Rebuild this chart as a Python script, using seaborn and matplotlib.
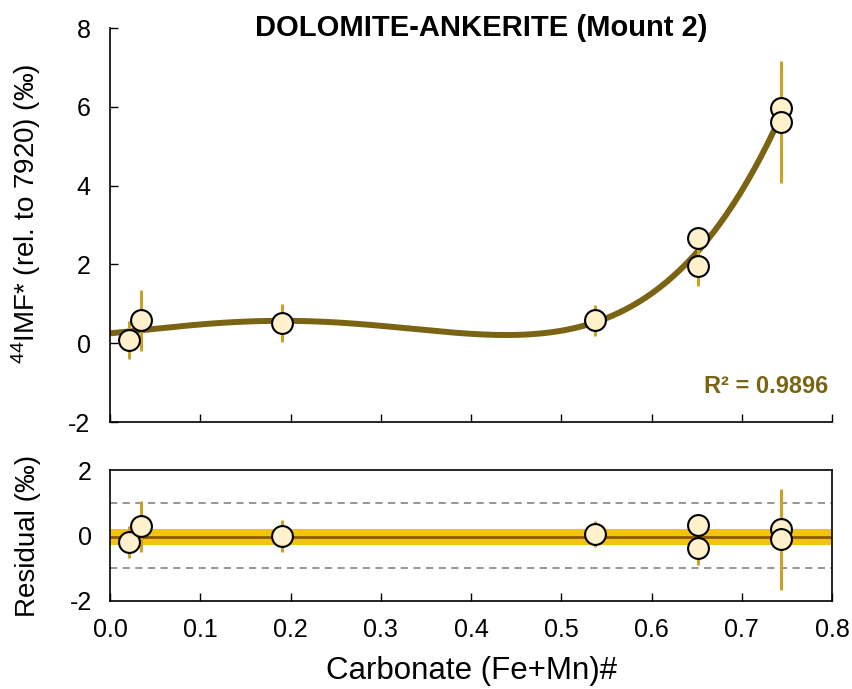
import numpy as np
import pandas as pd
import matplotlib
matplotlib.use("Agg")
import matplotlib.pyplot as plt
import seaborn as sns

# ---- data ----
fe_mn = [0.021, 0.034, 0.191, 0.537, 0.652, 0.652, 0.7435, 0.7435]
imf44 = [0.08, 0.58, 0.52, 0.58, 2.68, 1.96, 5.96, 5.62]
imf_err = [0.48, 0.78, 0.48, 0.40, 0.20, 0.52, 1.00, 1.55]
residual = [-0.20, 0.28, -0.02, 0.05, 0.33, -0.38, 0.20, -0.12]
r2_text = "R\u00b2 = 0.9896"
title = "DOLOMITE-ANKERITE (Mount 2)"
x_ticks = [0.0, 0.1, 0.2, 0.3, 0.4, 0.5, 0.6, 0.7, 0.8]
y_ticks_top = [-2, 0, 2, 4, 6, 8]
y_ticks_bot = [-2, 0, 2]
resid_band = [-0.29, 0.19]
resid_mean = -0.05

sns.set_theme(style="ticks")
plt.rcParams['font.family'] = ['Liberation Sans', 'DejaVu Sans']
plt.rcParams['mathtext.fontset'] = 'custom'
plt.rcParams['mathtext.rm'] = 'Liberation Sans'
plt.rcParams['mathtext.it'] = 'Liberation Sans'
for k in ['text.color', 'axes.labelcolor', 'xtick.color', 'ytick.color', 'axes.edgecolor']:
    plt.rcParams[k] = 'black'

fit_col = '#7A6414'
err_col = '#C9A227'
face_col = '#FFF1CC'

df = pd.DataFrame({'x': fe_mn, 'y': imf44, 'err': imf_err, 'res': residual})

# polynomial trend fitted to the data (as in the original trendline)
coef = np.polyfit(df.x, df.y, 4)
xs = np.linspace(0.0, 0.7435, 300)
fit = pd.DataFrame({'x': xs, 'y': np.polyval(coef, xs)})

fig = plt.figure(figsize=(8.52, 6.89), dpi=100)
ax1 = fig.add_axes([110/852, 1-422/689, 722/852, 394/689])
ax2 = fig.add_axes([110/852, 1-601/689, 722/852, 131/689])

# ---- top panel ----
sns.lineplot(data=fit, x='x', y='y', ax=ax1, color=fit_col, lw=4.3, zorder=2)
ax1.errorbar(df.x, df.y, yerr=df.err, fmt='none', ecolor=err_col, elinewidth=2.2, zorder=3)
sns.scatterplot(data=df, x='x', y='y', ax=ax1, s=225, color=face_col,
                edgecolor='black', linewidth=1.5, zorder=4)
ax1.set_xlim(0, 0.8)
ax1.set_ylim(-2, 8)
ax1.set_xticks(x_ticks)
ax1.set_xticklabels([])
ax1.set_yticks(y_ticks_top)
ax1.set_yticklabels([str(v) for v in y_ticks_top])
ax1.tick_params(direction='in', length=6, width=1, labelsize=18)
ax1.tick_params(axis='y', pad=14)
for s in ['top', 'right']:
    ax1.spines[s].set_visible(False)
for s in ['left', 'bottom']:
    ax1.spines[s].set_linewidth(1.2)
ax1.set_xlabel('')
ax1.set_ylabel(r'$^{44}$IMF* (rel. to 7920) (‰)', fontsize=20)
ax1.yaxis.set_label_coords(-0.093, 0.528)
ax1.text(0.796, -1.11, r2_text, color=fit_col, fontsize=17, fontweight='bold',
         ha='right', va='center')
fig.text(481/852, 1-28/689, title, fontsize=21, fontweight='bold', ha='center', va='center')

# ---- residual panel ----
ax2.axhspan(resid_band[0], resid_band[1], color='#F2C40F', lw=0, zorder=1)
ax2.axhline(resid_mean, color='#8C5A00', lw=2, zorder=2)
ax2.axhline(1, color='#8E8E8E', lw=1.3, ls=(0, (4, 3)), zorder=1)
ax2.axhline(-1, color='#8E8E8E', lw=1.3, ls=(0, (4, 3)), zorder=1)
ax2.errorbar(df.x, df.res, yerr=df.err, fmt='none', ecolor=err_col, elinewidth=2.2, zorder=3)
sns.scatterplot(data=df, x='x', y='res', ax=ax2, s=225, color=face_col,
                edgecolor='black', linewidth=1.5, zorder=4)
ax2.set_xlim(0, 0.8)
ax2.set_ylim(-2, 2)
ax2.set_xticks(x_ticks)
ax2.set_xticklabels([f"{v:.1f}" for v in x_ticks])
ax2.set_yticks(y_ticks_bot)
ax2.set_yticklabels([str(v) for v in y_ticks_bot])
ax2.tick_params(direction='in', length=6, width=1, labelsize=18)
ax2.tick_params(axis='y', length=0, pad=13)
ax2.tick_params(axis='x', pad=12)
for s in ax2.spines.values():
    s.set_linewidth(1.2)
ax2.set_ylabel('Residual (‰)', fontsize=20)
ax2.yaxis.set_label_coords(-0.095, 0.5)
ax2.set_xlabel('Carbonate (Fe+Mn)#', fontsize=22.5, labelpad=10)

fig.savefig('out.png', dpi=100, facecolor='white')
